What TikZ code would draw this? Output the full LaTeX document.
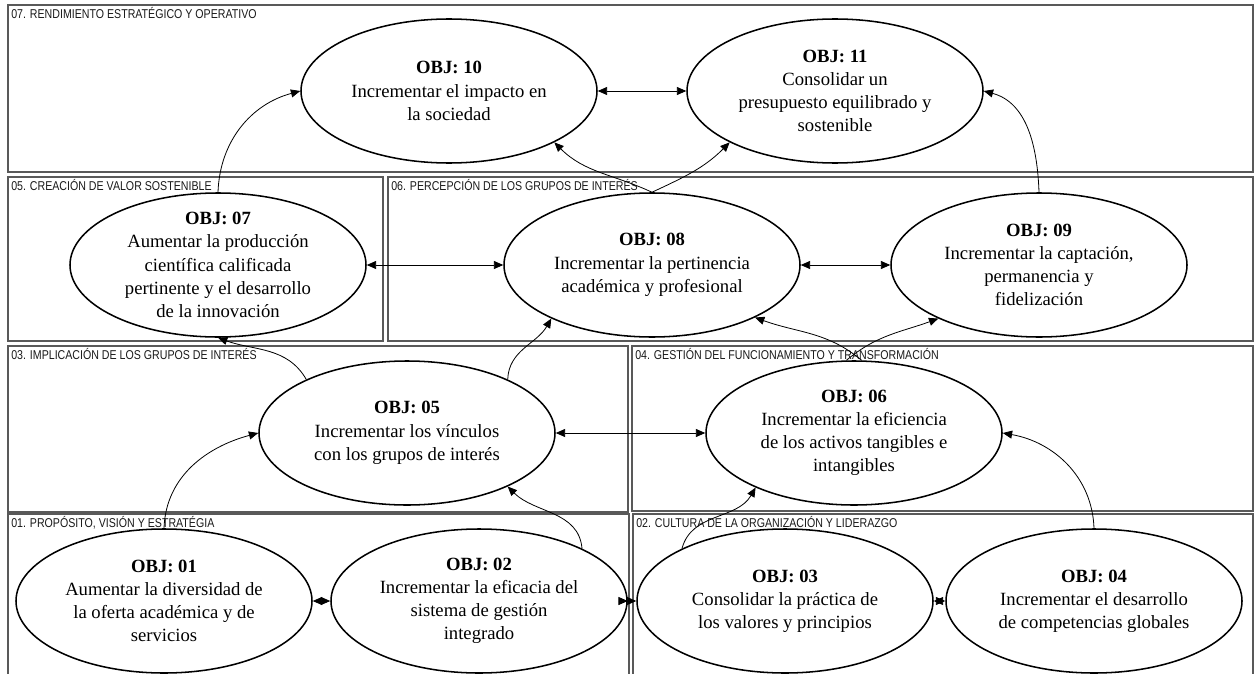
\documentclass[tikz,border=0pt]{standalone}
\usepackage{fontspec}
\setmainfont{Liberation Serif}
\newfontfamily\lblfont[FakeStretch=0.83]{Liberation Sans}
\usetikzlibrary{shapes.geometric,arrows.meta}
\begin{document}
\begin{tikzpicture}[x=0.75pt,y=-0.75pt,
  panel/.style={draw=black!65, line width=0.9pt},
  plabel/.style={font=\lblfont\fontsize{9.6}{10}\selectfont, inner sep=0pt, anchor=base west, text=black!90},
  objell/.style={ellipse, draw=black, line width=1.15pt, minimum width=222pt, minimum height=108pt, inner sep=0pt},
  objtxt/.style={align=center, font=\fontsize{14}{17.4}\selectfont, inner sep=0pt},
  conn/.style={draw=black, line width=0.6pt},
  bi/.style={conn, {Triangle[length=7pt,width=6pt]}-{Triangle[length=7pt,width=6pt]}},
  uni/.style={conn, -{Triangle[length=7pt,width=6pt]}}
]
\useasboundingbox (0,0) rectangle (1256,674);

% panels
\draw[panel] (8,5) rectangle (1253,172);
\draw[panel] (8,177) rectangle (383,341);
\draw[panel] (388,177) rectangle (1253,341);
\draw[panel] (8,346) rectangle (628,512);
\draw[panel] (632,346) rectangle (1253,511);
\draw[panel] (8,514) rectangle (629,690);
\draw[panel] (633,514) rectangle (1253,690);

% panel labels
\node[plabel] (l07) at (11,19) {07. RENDIMIENTO ESTRATÉGICO Y OPERATIVO};
\node[plabel] (l05) at (11,190) {05. CREACIÓN DE VALOR SOSTENIBLE};
\node[plabel] (l06) at (391,190) {06. PERCEPCIÓN DE LOS GRUPOS DE INTERÉS};
\node[plabel] (l03) at (11,359) {03. IMPLICACIÓN DE LOS GRUPOS DE INTERÉS};
\node[plabel] (l04) at (635,359) {04. GESTIÓN DEL FUNCIONAMIENTO Y TRANSFORMACIÓN};
\node[plabel] (l01) at (11,527) {01. PROPÓSITO, VISIÓN Y ESTRATÉGIA};
\node[plabel] (l02) at (636,527) {02. CULTURA DE LA ORGANIZACIÓN Y LIDERAZGO};

% ellipses
\node[objell] (o10) at (449,91) {};
\node[objell] (o11) at (835,91) {};
\node[objell] (o7) at (218,265) {};
\node[objell] (o8) at (652,265) {};
\node[objell] (o9) at (1039,265) {};
\node[objell] (o5) at (407,433) {};
\node[objell] (o6) at (854,433) {};
\node[objell] (o1) at (164,601) {};
\node[objell] (o2) at (479,601) {};
\node[objell] (o3) at (785,601) {};
\node[objell] (o4) at (1094,601) {};

% texts
\node[objtxt] (t10) at (o10) {\textbf{OBJ: 10}\\Incrementar el impacto en\\la sociedad};
\node[objtxt] (t11) at (o11) {\textbf{OBJ: 11}\\Consolidar un\\presupuesto equilibrado y\\sostenible};
\node[objtxt] (t7) at (o7) {\textbf{OBJ: 07}\\Aumentar la producción\\científica calificada\\pertinente y el desarrollo\\de la innovación};
\node[objtxt] (t8) at (o8) {\textbf{OBJ: 08}\\Incrementar la pertinencia\\académica y profesional};
\node[objtxt] (t9) at (o9) {\textbf{OBJ: 09}\\Incrementar la captación,\\permanencia y\\fidelización};
\node[objtxt] (t5) at (o5) {\textbf{OBJ: 05}\\Incrementar los vínculos\\con los grupos de interés};
\node[objtxt] (t6) at (o6) {\textbf{OBJ: 06}\\Incrementar la eficiencia\\de los activos tangibles e\\intangibles};
\node[objtxt] (t1) at (o1) {\textbf{OBJ: 01}\\Aumentar la diversidad de\\la oferta académica y de\\servicios};
\node[objtxt] (t2) at (o2) {\textbf{OBJ: 02}\\Incrementar la eficacia del\\sistema de gestión\\integrado};
\node[objtxt] (t3) at (o3) {\textbf{OBJ: 03}\\Consolidar la práctica de\\los valores y principios};
\node[objtxt] (t4) at (o4) {\textbf{OBJ: 04}\\Incrementar el desarrollo\\de competencias globales};

% connectors
\draw[bi] (o10.east) -- (o11.west);
\draw[bi] (o7.east) -- (o8.west);
\draw[bi] (o8.east) -- (o9.west);
\draw[bi] (o5.east) -- (o6.west);
\draw[bi] (o1.east) -- (o2.west);
\draw[bi] (o2.east) -- (o3.west);
\draw[bi] (o3.east) -- (o4.west);

\draw[uni] (o7.north) to[out=88,in=195] (o10.west);
\draw[uni] (o9.north) to[out=92,in=-15] (o11.east);
\draw[uni] (o8.north) to[out=155,in=-45] (o10.-26);
\draw[uni] (o8.north) to[out=25,in=225] (o11.206);
\draw[uni] (o5.152) to[out=120,in=-20] (o7.south);
\draw[uni] (o5.28) to[out=88,in=240] (o8.208);
\draw[uni] (o6.84) to[out=140,in=-20] (o8.-27);
\draw[uni] (o6.96) to[out=40,in=200] (o9.208);
\draw[uni] (o1.north) to[out=88,in=195] (o5.west);
\draw[uni] (o2.27) to[out=95,in=-45] (o5.-28);
\draw[uni] (o3.153) to[out=75,in=240] (o6.209);
\draw[uni] (o4.north) to[out=92,in=-10] (o6.east);
\end{tikzpicture}
\end{document}
